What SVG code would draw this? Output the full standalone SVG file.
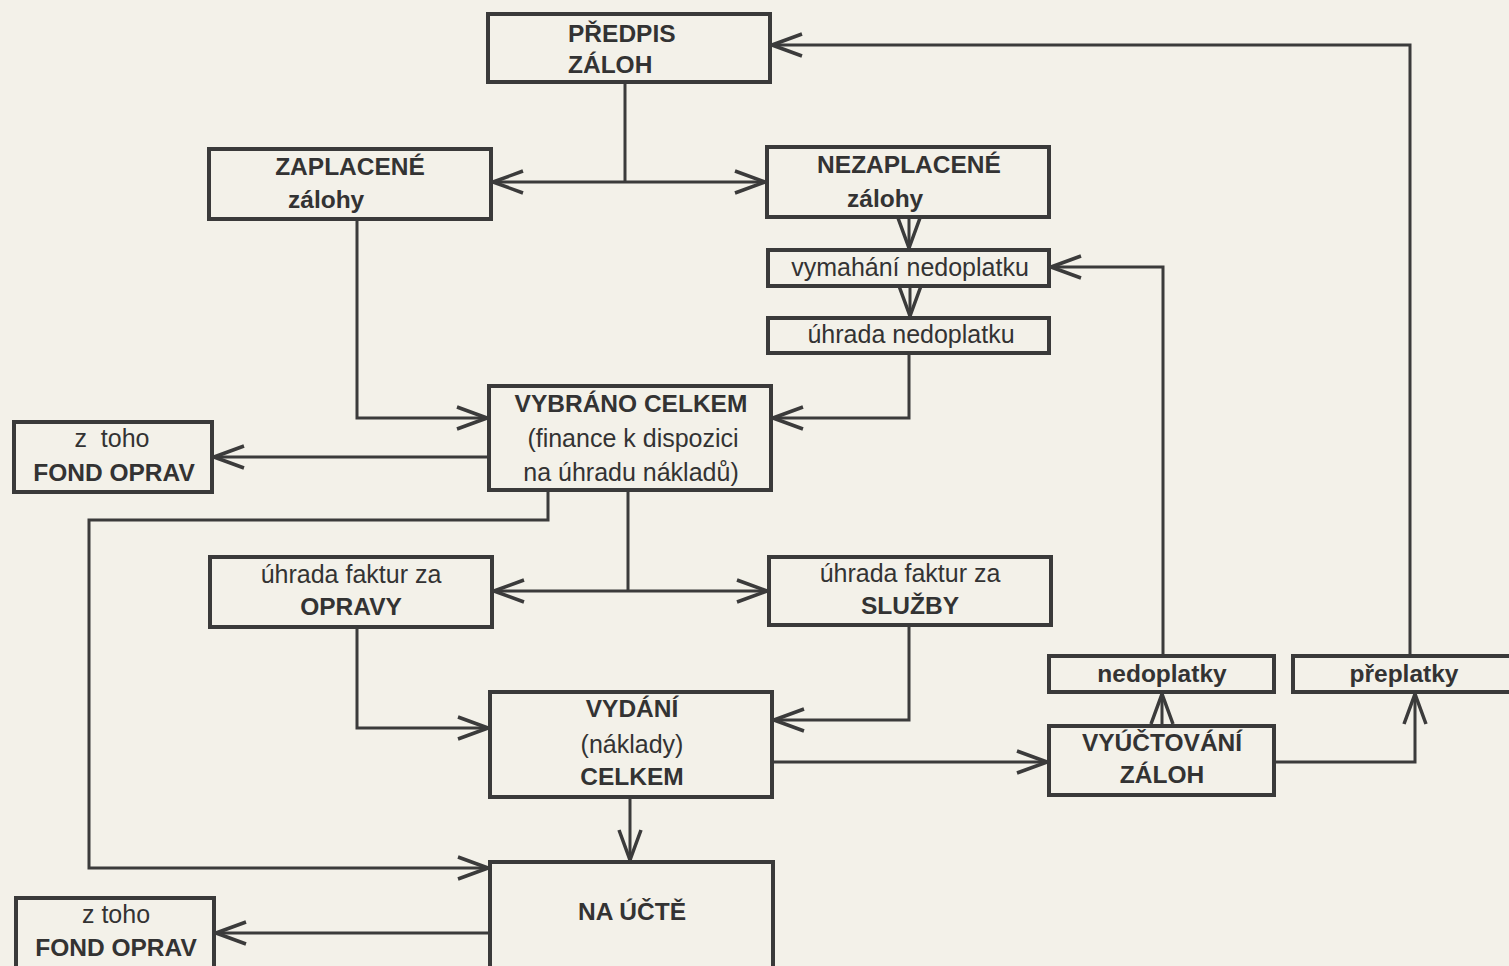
<svg xmlns="http://www.w3.org/2000/svg" width="1509" height="966" viewBox="0 0 1509 966">
<defs>
<marker id="arr" markerUnits="userSpaceOnUse" markerWidth="36" markerHeight="30" refX="32" refY="15" orient="auto">
<path d="M2,4 L32,15 L2,26" fill="none" stroke="#3b3b3b" stroke-width="3.5"/>
</marker>
<style>
.box{fill:none;stroke:#3a3a3a;stroke-width:4}
.ln{fill:none;stroke:#3b3b3b;stroke-width:3}
.b{font-family:"Liberation Sans",Arial,sans-serif;font-weight:bold;font-size:24.5px;fill:#333}
.n{font-family:"Liberation Sans",Arial,sans-serif;font-size:25px;fill:#333}
.m{text-anchor:middle}
</style>
</defs>
<rect width="1509" height="966" fill="#f3f1e9"/>
<g id="connectors">
<path class="ln" d="M1410,656 V45 H772" marker-end="url(#arr)"/>
<path class="ln" d="M625,82 V182"/>
<path class="ln" d="M625,182 H493" marker-end="url(#arr)"/>
<path class="ln" d="M625,182 H765" marker-end="url(#arr)"/>
<path class="ln" d="M357,219 V418 H487" marker-end="url(#arr)"/>
<path class="ln" d="M909,217 V248" marker-end="url(#arr)"/>
<path class="ln" d="M910,286 V316" marker-end="url(#arr)"/>
<path class="ln" d="M909,353 V418 H773" marker-end="url(#arr)"/>
<path class="ln" d="M1163,656 V267 H1051" marker-end="url(#arr)"/>
<path class="ln" d="M489,457 H214" marker-end="url(#arr)" stroke-width="4"/>
<path class="ln" d="M548,490 V520 H89 V868 H488" marker-end="url(#arr)"/>
<path class="ln" d="M628,490 V591"/>
<path class="ln" d="M628,591 H494" marker-end="url(#arr)"/>
<path class="ln" d="M628,591 H767" marker-end="url(#arr)"/>
<path class="ln" d="M357,627 V728 H488" marker-end="url(#arr)"/>
<path class="ln" d="M909,625 V720 H774" marker-end="url(#arr)"/>
<path class="ln" d="M772,762 H1047" marker-end="url(#arr)"/>
<path class="ln" d="M1162,726 V694" marker-end="url(#arr)"/>
<path class="ln" d="M1274,762 H1415 V694" marker-end="url(#arr)"/>
<path class="ln" d="M630,797 V860" marker-end="url(#arr)" stroke-width="4"/>
<path class="ln" d="M490,933 H216" marker-end="url(#arr)" stroke-width="4"/>
</g>
<g id="predpis"><rect class="box" x="488" y="14" width="282" height="68"/><text class="b" x="568" y="42">PŘEDPIS</text><text class="b" x="568" y="73">ZÁLOH</text></g>
<g id="zaplacene"><rect class="box" x="209" y="149" width="282" height="70"/><text class="b m" x="350" y="175">ZAPLACENÉ</text><text class="b" x="288" y="208">zálohy</text></g>
<g id="nezaplacene"><rect class="box" x="767" y="147" width="282" height="70"/><text class="b m" x="909" y="173">NEZAPLACENÉ</text><text class="b" x="847" y="207">zálohy</text></g>
<g id="vymahani"><rect class="box" x="768" y="250" width="281" height="36"/><text class="n m" x="910" y="276">vymahání nedoplatku</text></g>
<g id="uhrada-nedoplatku"><rect class="box" x="768" y="318" width="281" height="35"/><text class="n m" x="911" y="343">úhrada nedoplatku</text></g>
<g id="vybrano"><rect class="box" x="489" y="386" width="282" height="104"/><text class="b m" x="631" y="412">VYBRÁNO CELKEM</text><text class="n m" x="633" y="447">(finance k dispozici</text><text class="n m" x="631" y="481">na úhradu nákladů)</text></g>
<g id="fond1"><rect class="box" x="14" y="422" width="198" height="70"/><text class="n m" x="112" y="447" xml:space="preserve">z  toho</text><text class="b m" x="114" y="481">FOND OPRAV</text></g>
<g id="opravy"><rect class="box" x="210" y="557" width="282" height="70"/><text class="n m" x="351" y="583">úhrada faktur za</text><text class="b m" x="351" y="615">OPRAVY</text></g>
<g id="sluzby"><rect class="box" x="769" y="557" width="282" height="68"/><text class="n m" x="910" y="582">úhrada faktur za</text><text class="b m" x="910" y="614">SLUŽBY</text></g>
<g id="nedoplatky"><rect class="box" x="1049" y="656" width="225" height="36"/><text class="b m" x="1162" y="682">nedoplatky</text></g>
<g id="preplatky"><rect class="box" x="1293" y="656" width="222" height="36"/><text class="b m" x="1404" y="682">přeplatky</text></g>
<g id="vydani"><rect class="box" x="490" y="692" width="282" height="105"/><text class="b m" x="632" y="717">VYDÁNÍ</text><text class="n m" x="632" y="753">(náklady)</text><text class="b m" x="632" y="785">CELKEM</text></g>
<g id="vyuctovani"><rect class="box" x="1049" y="726" width="225" height="69"/><text class="b m" x="1162" y="751">VYÚČTOVÁNÍ</text><text class="b m" x="1162" y="783">ZÁLOH</text></g>
<g id="na-ucte"><rect class="box" x="490" y="862" width="283" height="110"/><text class="b m" x="632" y="920">NA ÚČTĚ</text></g>
<g id="fond2"><rect class="box" x="16" y="898" width="198" height="72"/><text class="n m" x="116" y="923">z toho</text><text class="b m" x="116" y="956">FOND OPRAV</text></g>
</svg>
